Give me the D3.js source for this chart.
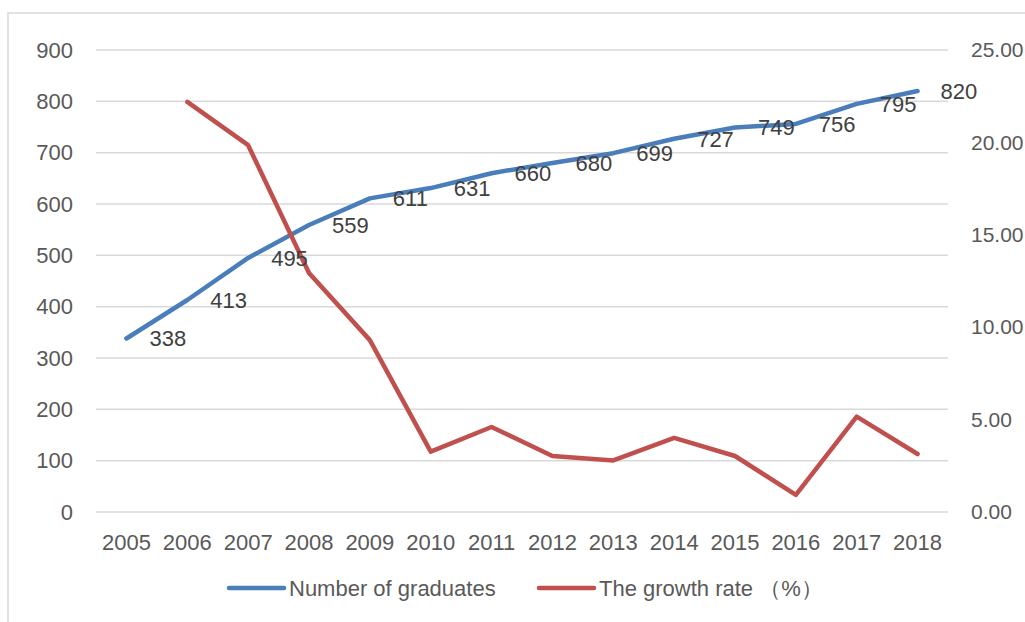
<!DOCTYPE html>
<html>
<head>
<meta charset="utf-8" />
<title>Graduates and growth rate</title>
<script src="https://cdnjs.cloudflare.com/ajax/libs/d3/7.8.5/d3.min.js"></script>
<style>
  body { margin: 0; padding: 0; background: #fff; }
  svg text { font-family: "Liberation Sans", Arial, sans-serif; }
</style>
</head>
<body>
<div id="chart"></div>
<script>
// chart data
var years = ["2005", "2006", "2007", "2008", "2009", "2010", "2011", "2012", "2013", "2014", "2015", "2016", "2017", "2018"];
var graduates = [338, 413, 495, 559, 611, 631, 660, 680, 699, 727, 749, 756, 795, 820];
// growth rate, no value for 2005
var growth = [null, 22.19, 19.85, 12.93, 9.30, 3.27, 4.60, 3.03, 2.79, 4.01, 3.03, 0.93, 5.16, 3.14];
var leftTicks = [0, 100, 200, 300, 400, 500, 600, 700, 800, 900];
var rightTicks = [0, 5, 10, 15, 20, 25];
var seriesNames = ["Number of graduates", "The growth rate （%）"];

var W = 1025, H = 622;
var blue = "#4a7ebb", red = "#c0504d";
var gridCol = "#d9d9d9", axisText = "#595959";
var fs = "22px";

var svg = d3.select("#chart").append("svg")
    .attr("width", W).attr("height", H);

// chart frame
svg.append("rect")
    .attr("x", 8).attr("y", 13)
    .attr("width", W + 20).attr("height", H + 20)
    .attr("fill", "none")
    .attr("stroke", gridCol)
    .attr("stroke-width", 1.5);

var x = d3.scaleBand().domain(years).range([96, 948]);
var yL = d3.scaleLinear().domain([0, 900]).range([512, 50]);
var yR = d3.scaleLinear().domain([0, 25]).range([512, 50]);
var cx = function(d) { return x(d) + x.bandwidth() / 2; };

// gridlines
svg.append("g").selectAll("line")
    .data(leftTicks).enter().append("line")
    .attr("x1", 96).attr("x2", 948)
    .attr("y1", function(d) { return yL(d); })
    .attr("y2", function(d) { return yL(d); })
    .attr("stroke", gridCol)
    .attr("stroke-width", 1.5);

// left axis
var gl = svg.append("g")
    .attr("transform", "translate(96,0)")
    .call(d3.axisLeft(yL).tickValues(leftTicks).tickSize(0).tickPadding(23));
gl.select(".domain").remove();
gl.selectAll("text").attr("fill", axisText).style("font-size", fs);

// right axis (slightly smaller so it fits the window edge)
var gr = svg.append("g")
    .attr("transform", "translate(948,0)")
    .call(d3.axisRight(yR).tickValues(rightTicks).tickSize(0).tickPadding(23)
        .tickFormat(d3.format(".2f")));
gr.select(".domain").remove();
gr.selectAll("text").attr("fill", axisText).style("font-size", "21px");

// bottom axis
var gb = svg.append("g")
    .attr("transform", "translate(0,512)")
    .call(d3.axisBottom(x).tickSize(0).tickPadding(22));
gb.select(".domain").remove();
gb.selectAll("text").attr("fill", axisText).style("font-size", fs);

// graduates line
var lineL = d3.line()
    .x(function(d, i) { return cx(years[i]); })
    .y(function(d) { return yL(d); });
svg.append("path")
    .datum(graduates)
    .attr("d", lineL)
    .attr("fill", "none")
    .attr("stroke", blue)
    .attr("stroke-width", 4.5)
    .attr("stroke-linejoin", "round")
    .attr("stroke-linecap", "round");

// growth line
var lineR = d3.line()
    .defined(function(d) { return d !== null; })
    .x(function(d, i) { return cx(years[i]); })
    .y(function(d) { return yR(d); });
svg.append("path")
    .datum(growth)
    .attr("d", lineR)
    .attr("fill", "none")
    .attr("stroke", red)
    .attr("stroke-width", 4.5)
    .attr("stroke-linejoin", "round")
    .attr("stroke-linecap", "round");

// data labels for graduates
svg.append("g").selectAll("text")
    .data(graduates).enter().append("text")
    .attr("x", function(d, i) { return cx(years[i]) + 23; })
    .attr("y", function(d) { return yL(d); })
    .attr("dy", "0.36em")
    .attr("fill", "#404040")
    .style("font-size", fs)
    .text(function(d) { return d; });

// legend
var legend = svg.append("g");
var legX = [229, 539];
var legCol = [blue, red];
seriesNames.forEach(function(name, i) {
    legend.append("line")
        .attr("x1", legX[i]).attr("x2", legX[i] + 55)
        .attr("y1", 588).attr("y2", 588)
        .attr("stroke", legCol[i])
        .attr("stroke-width", 4.5)
        .attr("stroke-linecap", "round");
    legend.append("text")
        .attr("x", legX[i] + 60)
        .attr("y", 588)
        .attr("dy", "0.36em")
        .attr("fill", axisText)
        .style("font-size", fs)
        .text(name);
});
</script>
</body>
</html>
